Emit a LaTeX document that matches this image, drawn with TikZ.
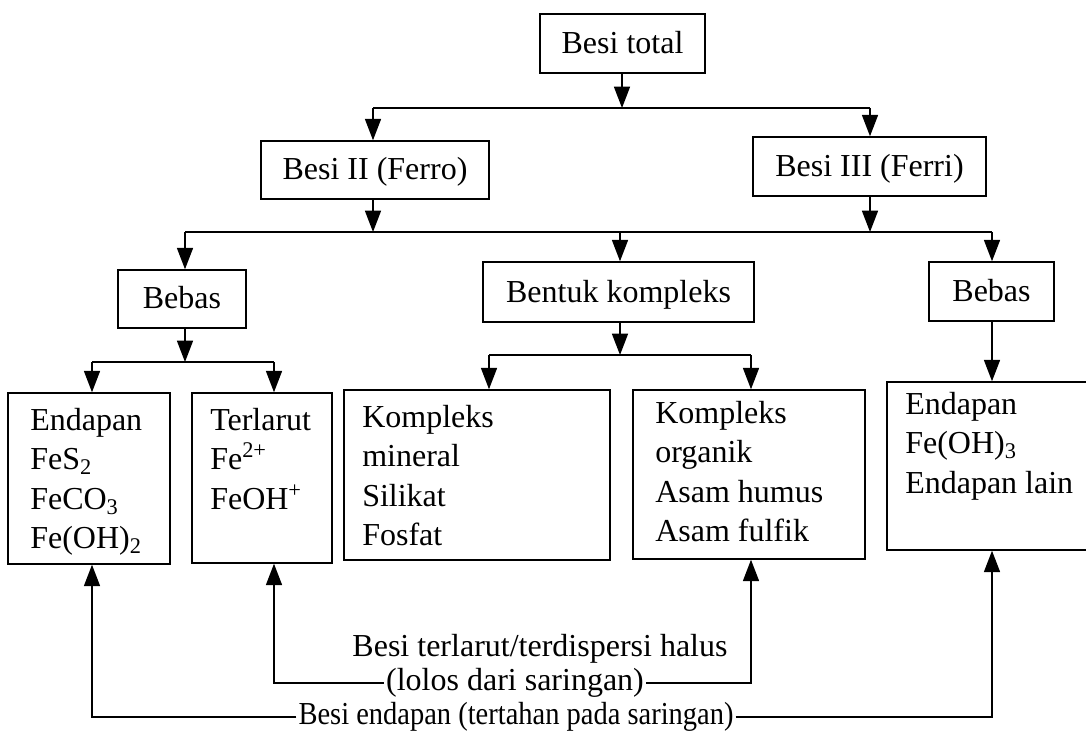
\documentclass[tikz,border=0pt]{standalone}
\usepackage{fontspec}
\setmainfont{Liberation Serif}
\newfontfamily\narrowserif[FakeStretch=0.89]{Liberation Serif}
\usetikzlibrary{arrows.meta,fit}
\begin{document}
\begin{tikzpicture}[x=0.75pt,y=-0.75pt,
  every node/.style={font=\fontsize{24}{29.5}\selectfont},
  box/.style={draw, line width=1.1pt, inner sep=0pt},
  sbox/.style={draw, line width=1.1pt, inner sep=0pt, text height=20pt, text depth=5pt},
  txt/.style={align=left, inner sep=0pt, anchor=north west},
  lab/.style={inner sep=1.5pt},
  line/.style={line width=1.1pt},
  arr/.style={line width=1.1pt, -{Triangle[width=12pt,length=16pt]}}]
\useasboundingbox (0,0) rectangle (1086,738);
\clip (0,0) rectangle (1086,738);
% single-line boxes
\node[sbox, minimum width=123.75pt, minimum height=44.25pt] (total) at (622.5,43.5) {Besi total};
\node[sbox, minimum width=171pt, minimum height=43.5pt] (b2) at (375,170) {Besi II (Ferro)};
\node[sbox, minimum width=174.75pt, minimum height=44.25pt] (b3) at (869.5,166.5) {Besi III (Ferri)};
\node[sbox, minimum width=96pt, minimum height=43.5pt] (bl) at (182,299) {Bebas};
\node[sbox, minimum width=203.25pt, minimum height=45pt] (bk) at (618.5,292) {Bentuk kompleks};
\node[sbox, minimum width=93.75pt, minimum height=44.25pt] (br) at (991.5,291.5) {Bebas};
% multi-line boxes
\node[box, fit={(8,393) (170,564)}] (el) {};
\node[box, fit={(192,393) (332,563)}] (tl) {};
\node[box, fit={(344,390) (610,560)}] (km) {};
\node[box, fit={(633,390) (865,559)}] (ko) {};
\node[box, fit={(887,382) (1095,550)}] (er) {};
% box texts
\node[txt] (elt) at (30,408) {Endapan\\FeS\textsubscript{2}\\FeCO\textsubscript{3}\\Fe(OH)\textsubscript{2}};
\node[txt] (tlt) at (210,408) {Terlarut\\Fe\textsuperscript{2+}\\FeOH\textsuperscript{+}};
\node[txt] (kmt) at (362,405) {Kompleks\\mineral\\Silikat\\Fosfat};
\node[txt] (kot) at (655,401) {Kompleks\\organik\\Asam humus\\Asam fulfik};
\node[txt] (ert) at (905,392) {Endapan\\Fe(OH)\textsubscript{3}\\Endapan lain};
% bottom labels
\node[lab] (halus) at (540,649) {Besi terlarut/terdispersi halus};
\node[lab] (lolos) at (515,683) {(lolos dari saringan)};
\node[lab, font=\narrowserif\fontsize{24}{29}\selectfont] (endap) at (516,717) {Besi endapan (tertahan pada saringan)};
% junctions
\coordinate (j1) at (622,108);
\coordinate (j1l) at (373,108);
\coordinate (j1r) at (870,108);
\coordinate (j2l) at (185,232);
\coordinate (j2m) at (620,232);
\coordinate (j2r) at (992,232);
\coordinate (j3l) at (92,362);
\coordinate (j3r) at (274,362);
\coordinate (j4l) at (489,355);
\coordinate (j4r) at (751,355);
% connectors
\draw[arr] (total.south -| j1) -- (j1);
\draw[line] (j1l) -- (j1r);
\draw[arr] (j1l) -- (b2.north -| j1l);
\draw[arr] (j1r) -- (b3.north -| j1r);
\draw[arr] (b2.south -| j1l) -- (j1l |- j2m);
\draw[arr] (b3.south -| j1r) -- (j1r |- j2m);
\draw[line] (j2l) -- (j2r);
\draw[arr] (j2l) -- (bl.north -| j2l);
\draw[arr] (j2m) -- (bk.north -| j2m);
\draw[arr] (j2r) -- (br.north -| j2r);
\draw[arr] (bl.south -| j2l) -- (j2l |- j3l);
\draw[line] (j3l) -- (j3r);
\draw[arr] (j3l) -- (el.north -| j3l);
\draw[arr] (j3r) -- (tl.north -| j3r);
\draw[arr] (bk.south -| j2m) -- (j2m |- j4l);
\draw[line] (j4l) -- (j4r);
\draw[arr] (j4l) -- (km.north -| j4l);
\draw[arr] (j4r) -- (ko.north -| j4r);
\draw[arr] (br.south -| j2r) -- (er.north -| j2r);
\draw[arr] (lolos.west) -| (tl.south -| j3r);
\draw[arr] (lolos.east) -| (ko.south -| j4r);
\draw[arr] (endap.west) -| (el.south -| j3l);
\draw[arr] (endap.east) -| (er.south -| j2r);
\end{tikzpicture}
\end{document}
